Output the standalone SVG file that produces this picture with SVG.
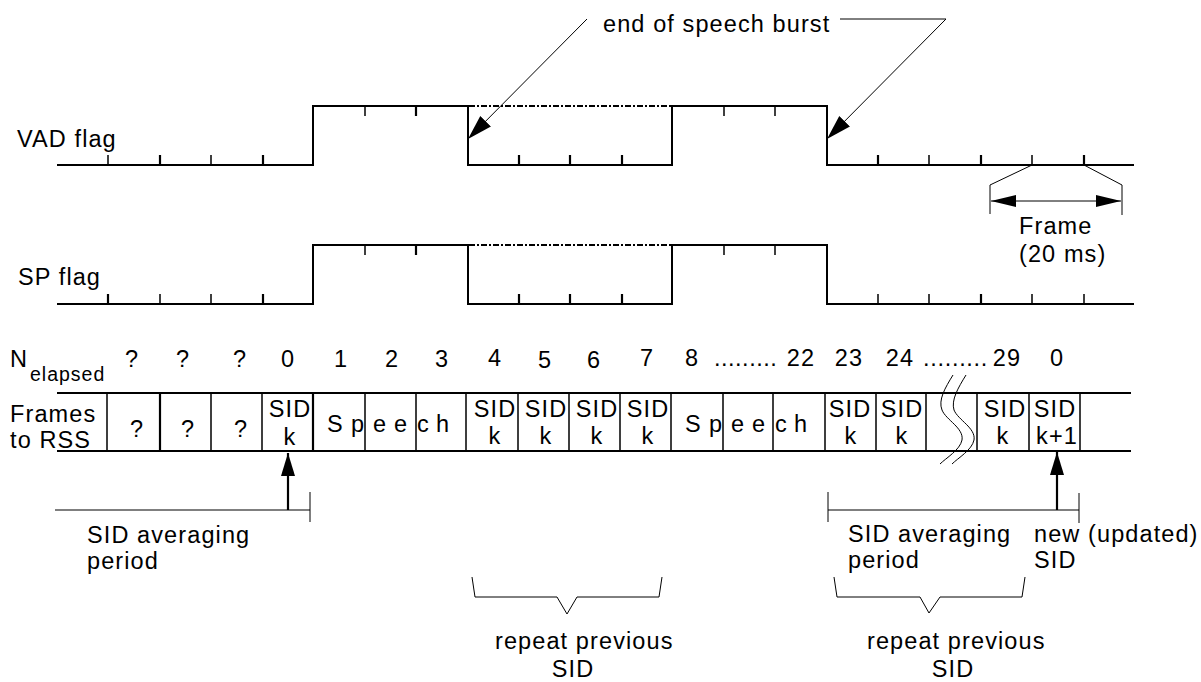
<svg xmlns="http://www.w3.org/2000/svg" width="1201" height="682" viewBox="0 0 1201 682">
<style>
text{font-family:"Liberation Sans",Arial,sans-serif;font-size:23.5px;letter-spacing:1.1px;fill:#000}
.m{text-anchor:middle}
.sig{fill:none;stroke:#000;stroke-width:2}
.tk{stroke:#000;stroke-width:1.5}
.tt{stroke:#000;stroke-width:2.2}
.dot{fill:none;stroke:#000;stroke-width:2;stroke-dasharray:6 2 2 2}
.thin{fill:none;stroke:#000;stroke-width:1}
.row{stroke:#000;stroke-width:2.2}
.dv{stroke:#000;stroke-width:1.5}
.dvt{stroke:#000;stroke-width:2.2}
.gray{stroke:#555;stroke-width:1.6}
</style>
<defs>
<marker id="ah" markerUnits="userSpaceOnUse" markerWidth="26" markerHeight="16" refX="25" refY="7.5" orient="auto"><path d="M0,0 L25,7.5 L0,15 z" fill="#000"/></marker>
<marker id="fa" markerUnits="userSpaceOnUse" markerWidth="26" markerHeight="13" refX="25" refY="6" orient="auto-start-reverse"><path d="M0,0 L25,6 L0,12 z" fill="#000"/></marker>
<marker id="ua" markerUnits="userSpaceOnUse" markerWidth="24" markerHeight="15" refX="23" refY="7" orient="auto"><path d="M0,0 L23,7 L0,14 z" fill="#000"/></marker>
</defs>

<g id="vad-flag">
<text x="17" y="147">VAD flag</text>
<path class="sig" d="M57,165 H313 V106 H468 V165 H672 V106 H827 V165 H1134"/>
<path class="dot" d="M469,106 H671"/>
<path class="tk" d="M108,155 V165 M211,155 V165 M365,106 V116 M724,106 V116 M775,106 V116 M929,155 V165 M1032,155 V165"/>
<path class="tt" d="M160,155 V165 M263,155 V165 M416,106 V116 M519,155 V165 M570,155 V165 M622,155 V165 M878,155 V165 M981,155 V165 M1084,155 V165"/>
</g>

<g id="sp-flag">
<text x="18" y="285">SP flag</text>
<path class="sig" d="M57,304 H313 V245 H468 V304 H672 V245 H827 V304 H1134"/>
<path class="dot" d="M469,245 H671"/>
<path class="tk" d="M160,294 V304 M211,294 V304 M365,245 V255 M724,245 V255 M775,245 V255 M878,294 V304 M929,294 V304 M1032,294 V304 M1084,294 V304"/>
<path class="tt" d="M108,294 V304 M263,294 V304 M416,245 V255 M519,294 V304 M570,294 V304 M622,294 V304 M981,294 V304"/>
</g>

<g id="end-of-speech-label">
<text x="603" y="32">end of speech burst</text>
</g>

<g id="frame-label">
<text x="1019" y="234">Frame</text>
<text x="1019" y="262">(20 ms)</text>
</g>

<g id="n-elapsed">
<text x="10" y="367">N</text>
<text x="30" y="381" style="font-size:19.5px;letter-spacing:1px">elapsed</text>
<text class="m" x="132" y="367">?</text>
<text class="m" x="183" y="367">?</text>
<text class="m" x="240" y="367">?</text>
<text class="m" x="288" y="367">0</text>
<text class="m" x="341" y="367">1</text>
<text class="m" x="392" y="367">2</text>
<text class="m" x="442" y="367">3</text>
<text class="m" x="495" y="366">4</text>
<text class="m" x="545" y="368">5</text>
<text class="m" x="594" y="368">6</text>
<text class="m" x="647" y="366">7</text>
<text class="m" x="692" y="366">8</text>
<text x="714" y="366" style="letter-spacing:0.5px">.........</text>
<text class="m" x="801" y="366">22</text>
<text class="m" x="849" y="366">23</text>
<text class="m" x="900" y="366">24</text>
<text x="923" y="366" style="letter-spacing:0.7px">.........</text>
<text class="m" x="1007" y="366">29</text>
<text class="m" x="1057" y="366">0</text>
</g>

<g id="frames-to-rss">
<text x="10" y="422">Frames</text>
<text x="10" y="448">to RSS</text>
<path class="row" d="M57,393 H1131 M57,451 H1131"/>
<path class="dv" d="M107,393 V451 M211,393 V451 M262,393 V451 M365,393 V451 M416,393 V451 M466,393 V451 M518,393 V451 M569,393 V451 M620,393 V451 M671,393 V451 M723,393 V451 M773,393 V451 M825,393 V451 M876,393 V451 M926,393 V451 M977,393 V451 M1029,393 V451 M1080,393 V451"/>
<path class="dvt" d="M160,393 V451 M313,393 V451"/>
<text class="m" x="137" y="437">?</text>
<text class="m" x="188" y="437">?</text>
<text class="m" x="241" y="437">?</text>
<text class="m" x="290" y="417">SID</text>
<text class="m" x="290" y="445">k</text>
<text x="327" y="432">S</text><text x="351" y="432">p</text><text x="373" y="432">e</text><text x="394" y="432">e</text><text x="417" y="432">c</text><text x="436" y="432">h</text>
<text class="m" x="495" y="417">SID</text><text class="m" x="495" y="444">k</text>
<text class="m" x="546" y="417">SID</text><text class="m" x="546" y="444">k</text>
<text class="m" x="597" y="417">SID</text><text class="m" x="597" y="444">k</text>
<text class="m" x="648" y="417">SID</text><text class="m" x="648" y="444">k</text>
<text x="685" y="432">S</text><text x="709" y="432">p</text><text x="731" y="432">e</text><text x="752" y="432">e</text><text x="775" y="432">c</text><text x="794" y="432">h</text>
<text class="m" x="850" y="417">SID</text><text class="m" x="851" y="444">k</text>
<text class="m" x="902" y="417">SID</text><text class="m" x="902" y="444">k</text>
<text class="m" x="1005" y="417">SID</text><text class="m" x="1003" y="444">k</text>
<text class="m" x="1055" y="417">SID</text><text class="m" x="1057" y="444">k+1</text>
<path class="thin" d="M953,375 C945,388 938,400 942,410 C946,420 964,428 962,440 C960,450 946,458 940,464"/>
<path class="thin" d="M966,375 C958,388 951,400 954,410 C958,420 976,428 974,440 C972,450 958,458 952,464"/>
</g>

<g id="sid-averaging-left">
<path class="gray" d="M55,510 H310"/>
<path class="thin" d="M310,492 V522"/>
<text x="87" y="543">SID averaging</text>
<text x="87" y="569">period</text>
</g>

<g id="sid-averaging-right">
<path class="gray" d="M828,510 H1079"/>
<path class="thin" d="M828,492 V522 M1079,493 V523"/>
<text x="848" y="542">SID averaging</text>
<text x="848" y="568">period</text>
<text x="1034" y="542">new (updated)</text>
<text x="1034" y="568">SID</text>
</g>

<g id="repeat-left">
<path class="thin" d="M472,577 L475,597 H557 L567,614 L577,597 H659 L662,577"/>
<text x="495" y="649">repeat previous</text>
<text class="m" x="573" y="677">SID</text>
</g>

<g id="repeat-right">
<path class="thin" d="M834,577 L837,597 H920 L929,613 L940,597 H1022 L1025,577"/>
<text x="867" y="649">repeat previous</text>
<text class="m" x="953" y="677">SID</text>
</g>

<g id="connectors">
<path class="thin" d="M587,19 L468,139" marker-end="url(#ah)"/>
<path class="thin" d="M840,19 H946 L827,139" marker-end="url(#ah)"/>
<path class="thin" d="M1032,165 L990,185 V214 M1084,165 L1122,185 V215"/>
<path class="thin" d="M991,201 H1121" marker-start="url(#fa)" marker-end="url(#fa)"/>
<path d="M288,510 V453" stroke="#000" stroke-width="2.2" marker-end="url(#ua)"/>
<path d="M1057,510 V452" stroke="#000" stroke-width="2.2" marker-end="url(#ua)"/>
</g>
</svg>
